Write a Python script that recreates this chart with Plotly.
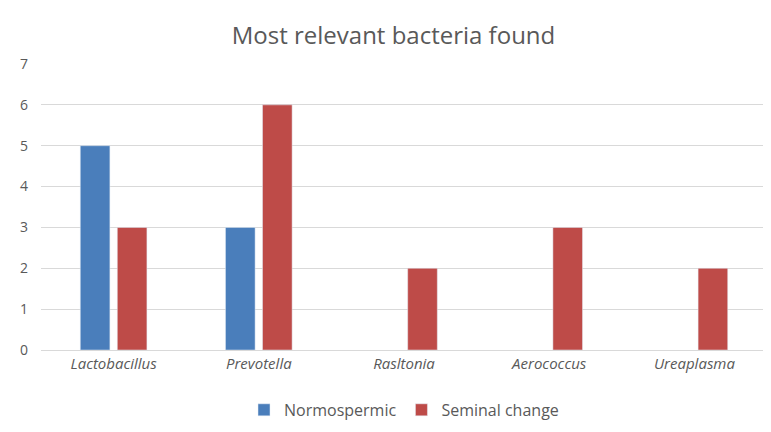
import plotly.graph_objs as go

categories = ['Lactobacillus', 'Prevotella', 'Rasltonia', 'Aerococcus', 'Ureaplasma']
normospermic = [5, 3, None, None, None]
seminal_change = [3, 6, 2, 3, 2]

fig = go.Figure()
fig.add_trace(go.Bar(x=categories, y=normospermic, name='Normospermic', marker_color='#4A7EBB'))
fig.add_trace(go.Bar(x=categories, y=seminal_change, name='Seminal change', marker_color='#BE4B48'))

fig.update_layout(
    width=771, height=432,
    title=dict(text='Most relevant bacteria found', x=0.5, y=0.955, xanchor='center',
               font=dict(family='Open Sans', size=24, color='#595959')),
    barmode='group', bargap=0.49, bargroupgap=0.2,
    plot_bgcolor='white', paper_bgcolor='white',
    margin=dict(l=30, r=12, t=56, b=90),
    font=dict(family='Open Sans', size=14, color='#595959'),
    legend=dict(orientation='h', x=0.5, xanchor='center', y=-0.15, yanchor='top',
                font=dict(size=16), itemwidth=30, traceorder='normal'),
    xaxis=dict(tickfont=dict(style='italic', size=15), showline=True, linecolor='#D9D9D9', ticks=''),
    yaxis=dict(range=[0, 7], dtick=1, gridcolor='#D9D9D9', zeroline=False, ticks='',
               ticklabelstandoff=12),
)
fig.write_html("out.html")
